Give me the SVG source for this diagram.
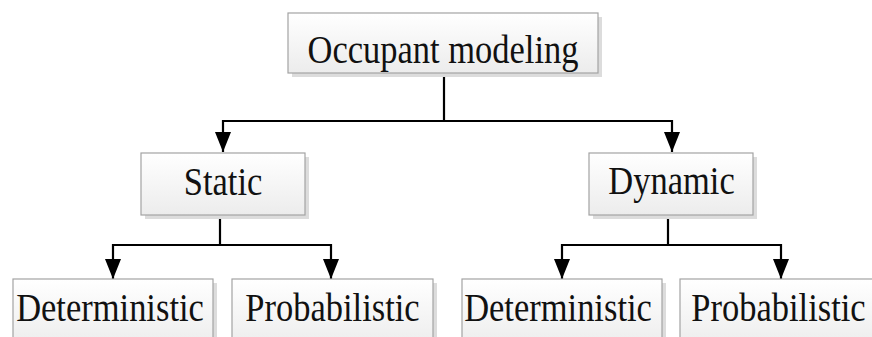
<svg xmlns="http://www.w3.org/2000/svg" width="872" height="337" viewBox="0 0 872 337">
<style>
.box{fill:url(#g);stroke:#a3a3a3;stroke-width:1.2}
.sh{fill:#dcdcdc}
.t{font-family:"Liberation Serif","Times New Roman",serif;font-size:34.5px;fill:#111;text-anchor:middle}
.c{fill:none;stroke:#000;stroke-width:2.2}
</style>
<defs>
<linearGradient id="g" x1="0" y1="0" x2="0" y2="1">
<stop offset="0" stop-color="#ffffff"/>
<stop offset="1" stop-color="#ececec"/>
</linearGradient>
<marker id="a" viewBox="0 0 20 16" refX="20" refY="8" markerWidth="20" markerHeight="16" markerUnits="userSpaceOnUse" orient="auto">
<path d="M0,0 L20,8 L0,16 z" fill="#000"/>
</marker>
</defs>
<g id="connectors">
<path class="c" d="M444,73 V121 H223 V152" marker-end="url(#a)"/>
<path class="c" d="M444,121 H672 V152" marker-end="url(#a)"/>
<path class="c" d="M220,215 V245 H113 V279" marker-end="url(#a)"/>
<path class="c" d="M220,245 H331 V279" marker-end="url(#a)"/>
<path class="c" d="M668,215 V245 H562 V279" marker-end="url(#a)"/>
<path class="c" d="M668,245 H781 V279" marker-end="url(#a)"/>
</g>
<g id="occupant">
<rect class="sh" x="292" y="17" width="310" height="60"/>
<rect class="box" x="288" y="13" width="310" height="60"/>
<text class="t" transform="translate(443,63) scale(1,1.18)">Occupant modeling</text>
</g>
<g id="static">
<rect class="sh" x="145" y="157" width="164" height="62"/>
<rect class="box" x="141" y="153" width="164" height="62"/>
<text class="t" transform="translate(223,195) scale(1,1.18)">Static</text>
</g>
<g id="dynamic">
<rect class="sh" x="593" y="157" width="164" height="62"/>
<rect class="box" x="589" y="153" width="164" height="62"/>
<text class="t" transform="translate(671.5,194) scale(1,1.18)">Dynamic</text>
</g>
<g id="static-deterministic">
<rect class="sh" x="17" y="283" width="200" height="70"/>
<rect class="box" x="13" y="279" width="200" height="70"/>
<text class="t" transform="translate(110,321) scale(1,1.18)">Deterministic</text>
</g>
<g id="static-probabilistic">
<rect class="sh" x="236" y="283" width="201" height="70"/>
<rect class="box" x="232" y="279" width="201" height="70"/>
<text class="t" transform="translate(332.5,321) scale(1,1.18)">Probabilistic</text>
</g>
<g id="dynamic-deterministic">
<rect class="sh" x="466" y="283" width="200" height="70"/>
<rect class="box" x="462" y="279" width="200" height="70"/>
<text class="t" transform="translate(558,321) scale(1,1.18)">Deterministic</text>
</g>
<g id="dynamic-probabilistic">
<rect class="sh" x="684" y="283" width="201" height="70"/>
<rect class="box" x="680" y="279" width="201" height="70"/>
<text class="t" transform="translate(778.5,321) scale(1,1.18)">Probabilistic</text>
</g>
</svg>
